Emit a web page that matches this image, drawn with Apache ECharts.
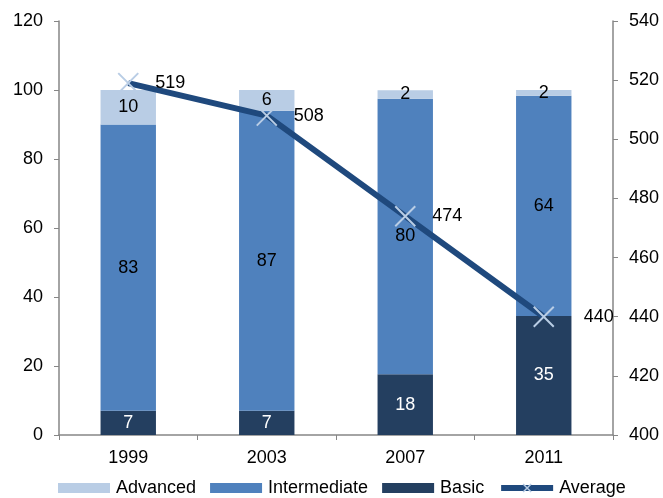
<!DOCTYPE html>
<html>
<head>
<meta charset="utf-8">
<script src="https://cdn.jsdelivr.net/npm/echarts@6/dist/echarts.min.js"></script>
<style>
html, body { margin: 0; padding: 0; background: #fff; }
#main { width: 663px; height: 498px; }
</style>
</head>
<body>
<div id="main"></div>
<script>
// shares in %, labels shown rounded
var years = ['1999', '2003', '2007', '2011'];
var basic = [7, 7, 17.6, 34.5];
var intermediate = [83, 87, 79.9, 63.8];
var advanced = [10, 6, 2.4, 1.7];
var average = [519, 508, 474, 440];

var myChart = echarts.init(document.getElementById('main'));
var font = 'Liberation Sans, Arial, sans-serif';
var axisGrey = '#868686';
var fs = 18;

function rounded(p) { return Math.round(p.value); }

var option = {
    backgroundColor: '#fff',
    animation: false,
    textStyle: { fontFamily: font },
    grid: { left: 59, right: 50, top: 21, bottom: 63 },
    legend: {
        top: 474,
        left: 53,
        itemWidth: 52,
        itemHeight: 10,
        itemGap: 14,
        textStyle: { fontSize: fs, color: '#000', fontFamily: font, padding: [0, 0, 0, 1] },
        data: [
            { name: 'Advanced', icon: 'rect' },
            { name: 'Intermediate', icon: 'rect' },
            { name: 'Basic', icon: 'rect' },
            { name: 'Average',
              lineStyle: { width: 6, color: '#1F497D' },
              itemStyle: { color: '#1F497D', borderColor: '#B9CDE5', borderWidth: 1.5 } }
        ]
    },
    xAxis: {
        type: 'category',
        data: years,
        axisLine: { lineStyle: { color: axisGrey, width: 1.5 } },
        axisTick: { show: true, length: 5, lineStyle: { color: axisGrey } },
        axisLabel: { fontSize: fs, color: '#000', margin: 14 }
    },
    yAxis: [{
        type: 'value',
        min: 0, max: 120, interval: 20,
        axisLine: { show: true, lineStyle: { color: axisGrey, width: 1.5 } },
        axisTick: { show: true, length: 5, lineStyle: { color: axisGrey } },
        axisLabel: { fontSize: fs, color: '#000', margin: 16 },
        splitLine: { show: false }
    }, {
        type: 'value',
        min: 400, max: 540, interval: 20,
        axisLine: { show: true, lineStyle: { color: axisGrey, width: 1.5 } },
        axisTick: { show: true, length: 5, lineStyle: { color: axisGrey } },
        axisLabel: { fontSize: fs, color: '#000', margin: 16 },
        splitLine: { show: false }
    }],
    series: [{
        name: 'Basic',
        type: 'bar',
        stack: 'pct',
        barWidth: '40%',
        data: basic,
        itemStyle: { color: '#243F60' },
        label: { show: true, position: 'inside', color: '#fff', fontSize: fs, formatter: rounded }
    }, {
        name: 'Intermediate',
        type: 'bar',
        stack: 'pct',
        data: intermediate,
        itemStyle: { color: '#4F81BD' },
        label: { show: true, position: 'inside', color: '#000', fontSize: fs, formatter: rounded }
    }, {
        name: 'Advanced',
        type: 'bar',
        stack: 'pct',
        data: advanced,
        itemStyle: { color: '#B9CDE5' },
        label: { show: true, position: 'inside', color: '#000', fontSize: fs, formatter: rounded }
    }, {
        name: 'Average',
        type: 'line',
        yAxisIndex: 1,
        data: average.map(function (v, i) {
            return i === average.length - 1 ? { value: v, label: { distance: 29 } } : v;
        }),
        z: 5,
        lineStyle: { color: '#1F497D', width: 6 },
        symbol: 'path://M0,0L10,10M10,0L0,10',
        symbolSize: 20,
        itemStyle: { color: '#1F497D', borderColor: '#B9CDE5', borderWidth: 2 },
        label: { show: true, position: 'right', distance: 16, color: '#000', fontSize: fs }
    }]
};

if (option && typeof option === 'object') {
    myChart.setOption(option, true);
}
</script>
</body>
</html>
